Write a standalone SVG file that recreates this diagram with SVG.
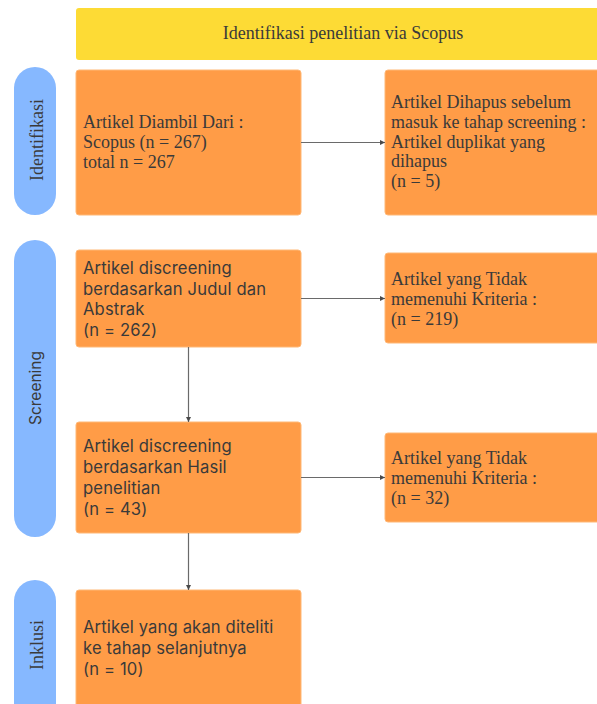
<svg xmlns="http://www.w3.org/2000/svg" width="597" height="704" viewBox="0 0 597 704">
<style>
.box{fill:#FF9C47;stroke:#FFB877;stroke-width:1}
.pill{fill:#86B8FF}
.serif{font-family:"Liberation Serif","Times New Roman",serif;font-size:18px;fill:#3a3a3a}
.sans{font-family:Inter,"Noto Sans",sans-serif;font-size:16.6px;letter-spacing:0.15px;fill:#3a3a3a}
.conn{stroke:#6a6a6a;stroke-width:1.2;fill:none;marker-end:url(#ah)}
</style>
<defs>
<marker id="ah" viewBox="0 0 6 6" refX="6" refY="3" markerWidth="5" markerHeight="5" markerUnits="userSpaceOnUse" orient="auto">
<path d="M0,0 L6,3 L0,6 z" fill="#4a4a4a"/>
</marker>
</defs>
<rect width="597" height="704" fill="#ffffff"/>
<g id="banner">
<rect x="76" y="8" width="530" height="52" rx="3" fill="#FDDB35"/>
<text class="serif" x="343" y="39" text-anchor="middle">Identifikasi penelitian via Scopus</text>
</g>
<g id="pill-identifikasi">
<rect class="pill" x="14" y="67" width="42" height="148" rx="21"/>
<text class="serif" transform="translate(43,140) rotate(-90)" text-anchor="middle">Identifikasi</text>
</g>
<g id="pill-screening">
<rect class="pill" x="14" y="240" width="42" height="297" rx="21"/>
<text class="sans" style="font-size:15.5px;letter-spacing:0" transform="translate(41,388) rotate(-90)" text-anchor="middle">Screening</text>
</g>
<g id="pill-inklusi">
<rect class="pill" x="14" y="580" width="42" height="150" rx="21"/>
<text class="serif" transform="translate(43,645) rotate(-90)" text-anchor="middle">Inklusi</text>
</g>
<g id="box-diambil">
<rect class="box" x="76" y="70" width="225" height="145" rx="3"/>
<text class="serif"><tspan x="83" y="128">Artikel Diambil Dari :</tspan><tspan x="83" y="148">Scopus (n = 267)</tspan><tspan x="83" y="168">total n = 267</tspan></text>
</g>
<g id="box-dihapus">
<rect class="box" x="385" y="70" width="225" height="145" rx="3"/>
<text class="serif"><tspan x="391" y="108">Artikel Dihapus sebelum</tspan><tspan x="391" y="128">masuk ke tahap screening :</tspan><tspan x="391" y="148">Artikel duplikat yang</tspan><tspan x="391" y="167">dihapus</tspan><tspan x="391" y="187">(n = 5)</tspan></text>
</g>
<g id="box-judul">
<rect class="box" x="76" y="250" width="225" height="97" rx="3"/>
<text class="sans"><tspan x="83" y="274">Artikel discreening</tspan><tspan x="83" y="295">berdasarkan Judul dan</tspan><tspan x="83" y="315">Abstrak</tspan><tspan x="83" y="336">(n = 262)</tspan></text>
</g>
<g id="box-tidak1">
<rect class="box" x="385" y="253" width="225" height="90" rx="3"/>
<text class="serif"><tspan x="391" y="285">Artikel yang Tidak</tspan><tspan x="391" y="305">memenuhi Kriteria :</tspan><tspan x="391" y="325">(n = 219)</tspan></text>
</g>
<g id="box-hasil">
<rect class="box" x="76" y="422" width="225" height="111" rx="3"/>
<text class="sans"><tspan x="83" y="452">Artikel discreening</tspan><tspan x="83" y="473">berdasarkan Hasil</tspan><tspan x="83" y="494">penelitian</tspan><tspan x="83" y="515">(n = 43)</tspan></text>
</g>
<g id="box-tidak2">
<rect class="box" x="385" y="433" width="225" height="89" rx="3"/>
<text class="serif"><tspan x="391" y="464">Artikel yang Tidak</tspan><tspan x="391" y="484">memenuhi Kriteria :</tspan><tspan x="391" y="504">(n = 32)</tspan></text>
</g>
<g id="box-inklusi">
<rect class="box" x="76" y="590" width="225" height="130" rx="3"/>
<text class="sans"><tspan x="83" y="633">Artikel yang akan diteliti</tspan><tspan x="83" y="654">ke tahap selanjutnya</tspan><tspan x="83" y="675">(n = 10)</tspan></text>
</g>
<g id="connectors">
<line class="conn" x1="301" y1="142.5" x2="385" y2="142.5"/>
<line class="conn" x1="301" y1="298.5" x2="385" y2="298.5"/>
<line class="conn" x1="301" y1="477.5" x2="385" y2="477.5"/>
<line class="conn" x1="188.5" y1="347" x2="188.5" y2="422"/>
<line class="conn" x1="188.5" y1="533" x2="188.5" y2="590"/>
</g>
</svg>
